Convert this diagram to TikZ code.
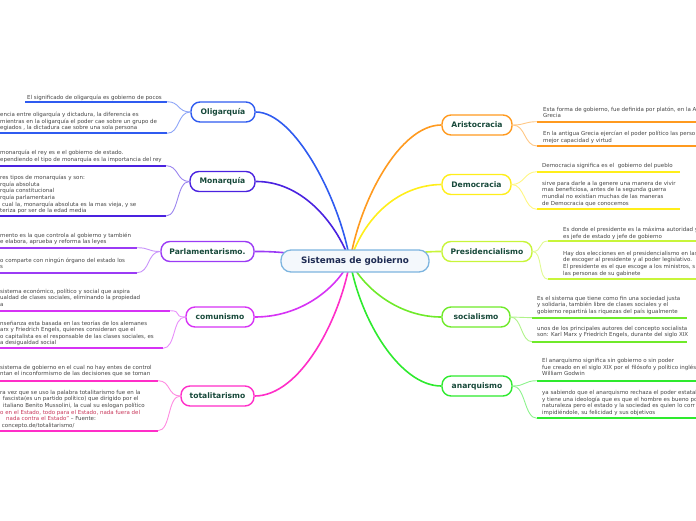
\documentclass[tikz,border=0pt]{standalone}
\usepackage{fontspec}
\setmainfont{DejaVu Sans}
\usetikzlibrary{backgrounds}
\definecolor{cOli}{HTML}{2F5BF0}
\definecolor{cMon}{HTML}{4A22E0}
\definecolor{cPar}{HTML}{9B3BF5}
\definecolor{cCom}{HTML}{D633F5}
\definecolor{cTot}{HTML}{FF2EC8}
\definecolor{cAri}{HTML}{FF9A1F}
\definecolor{cDem}{HTML}{FFEE1A}
\definecolor{cPre}{HTML}{C8F53A}
\definecolor{cSoc}{HTML}{6FEA2A}
\definecolor{cAna}{HTML}{2EEA2E}
\definecolor{txt}{HTML}{454545}
\definecolor{lbl}{HTML}{17493A}
\definecolor{rootTxt}{HTML}{1E2B52}
\definecolor{rootBd}{HTML}{7DB4DF}
\definecolor{rootFill}{HTML}{F4F8FC}
\definecolor{slogan}{HTML}{C8375A}
\tikzset{
  branch/.style={draw=#1, line width=1.4pt, fill=white, rounded corners=9pt,
    minimum height=20pt, inner xsep=4pt, font=\fontsize{7.6}{9}\bfseries, text=lbl},
  leaf/.style={font=\fontsize{5.5}{6.6}\selectfont, text=txt, align=left,
    inner sep=0pt, anchor=north west},
  uline/.style={draw=#1, line width=1.8pt},
  conn/.style={draw=#1, line width=1.6pt},
  lconn/.style={draw=#1!55, line width=0.9pt}
}
\begin{document}
\begin{tikzpicture}[x=1pt,y=-1pt]
\useasboundingbox (0,0) rectangle (696,520);
\clip (0,0) rectangle (696,520);

% root and branches
\node[draw=rootBd, fill=rootFill, line width=1.3pt, rounded corners=10pt,
  minimum width=148pt, minimum height=22pt, font=\fontsize{8.8}{10}\bfseries,
  text=rootTxt] (root) at (355,261) {Sistemas de gobierno};
\coordinate (hub) at (350,261);

\node[branch=cOli, minimum width=64pt] (olig) at (223,112) {Oligarquía};
\node[branch=cMon, minimum width=65pt] (mon) at (222.5,181.5) {Monarquía};
\node[branch=cPar, minimum width=93pt] (parl) at (207.5,251.5) {Parlamentarismo.};
\node[branch=cCom, minimum width=68pt] (com) at (220,317) {comunismo};
\node[branch=cTot, minimum width=73pt] (tot) at (217.5,396) {totalitarismo};
\node[branch=cAri, minimum width=70pt] (ari) at (477,125) {Aristocracia};
\node[branch=cDem, minimum width=69pt] (dem) at (476.5,184.5) {Democracia};
\node[branch=cPre, minimum width=90pt] (pres) at (487,251.5) {Presidencialismo};
\node[branch=cSoc, minimum width=68pt] (soc) at (476,317) {socialismo};
\node[branch=cAna, minimum width=70pt] (ana) at (477,386) {anarquismo};

\begin{scope}[on background layer]
\draw[conn=cOli] (olig.east) .. controls (295,112) and (340,200) .. (hub);
\draw[conn=cMon] (mon.east) .. controls (300,181) and (335,220) .. (hub);
\draw[conn=cPar] (parl.east) .. controls (290,251) and (320,258) .. (hub);
\draw[conn=cCom] (com.east) .. controls (300,317) and (335,290) .. (hub);
\draw[conn=cTot] (tot.east) .. controls (300,396) and (340,320) .. (hub);
\draw[conn=cAri] (ari.west) .. controls (400,125) and (360,200) .. (hub);
\draw[conn=cDem] (dem.west) .. controls (400,185) and (365,215) .. (hub);
\draw[conn=cPre] (pres.west) .. controls (420,251) and (380,258) .. (hub);
\draw[conn=cSoc] (soc.west) .. controls (400,317) and (365,290) .. (hub);
\draw[conn=cAna] (ana.west) .. controls (400,386) and (360,320) .. (hub);
\end{scope}

% ---------- left leaves ----------
% Oligarquia
\coordinate (o1a) at (25,101.7);  \coordinate (o1b) at (167,101.7);
\coordinate (o2a) at (-2,133.3);  \coordinate (o2b) at (167,133.3);
\draw[uline=cOli] (o1a) -- (o1b);
\draw[uline=cOli] (o2a) -- (o2b);
\draw[lconn=cOli] (olig.west) .. controls +(-13,0) and +(13,0) .. (o1b);
\draw[lconn=cOli] (olig.west) .. controls +(-13,0) and +(13,0) .. (o2b);
\node[leaf] (o1) at (27,94.4) {El significado de oligarquía es gobierno de pocos};
\node[leaf] (o2) at (0,112) {encia entre oligarquía y dictadura, la diferencia es\\
mientras en la oligarquía el poder cae sobre un grupo de\\
egiados , la dictadura cae sobre una sola persona};

% Monarquia
\coordinate (m1a) at (-2,165.7);  \coordinate (m1b) at (166,165.7);
\coordinate (m2a) at (-2,216);    \coordinate (m2b) at (166,216);
\draw[uline=cMon] (m1a) -- (m1b);
\draw[uline=cMon] (m2a) -- (m2b);
\draw[lconn=cMon] (mon.west) .. controls +(-13,0) and +(13,0) .. (m1b);
\draw[lconn=cMon] (mon.west) .. controls +(-13,0) and +(13,0) .. (m2b);
\node[leaf] (m1) at (0,150) {monarquía el rey es e el gobierno de estado.\\
ependiendo el tipo de monarquía es la importancia del rey};
\node[leaf] (m2) at (0,175) {res tipos de monarquías y son:\\
rquía absoluta\\
rquía constitucional\\
rquía parlamentaria\\
\hspace*{2pt}cual la, monarquía absoluta es la mas vieja, y se\\
teriza por ser de la edad media};

% Parlamentarismo
\coordinate (p1a) at (-2,247.7);  \coordinate (p1b) at (137,247.7);
\coordinate (p2a) at (-2,272.7);  \coordinate (p2b) at (137,272.7);
\draw[uline=cPar] (p1a) -- (p1b);
\draw[uline=cPar] (p2a) -- (p2b);
\draw[lconn=cPar] (parl.west) .. controls +(-13,0) and +(13,0) .. (p1b);
\draw[lconn=cPar] (parl.west) .. controls +(-13,0) and +(13,0) .. (p2b);
\node[leaf] (p1) at (0,232.7) {mento es la que controla al gobierno y también\\
e elabora, aprueba y reforma las leyes};
\node[leaf] (p2) at (0,257.7) {o comparte con ningún órgano del estado los\\
s};

% comunismo
\coordinate (c1a) at (-2,310.7);  \coordinate (c1b) at (170,310.7);
\coordinate (c2a) at (-2,348.3);  \coordinate (c2b) at (163,348.3);
\draw[uline=cCom] (c1a) -- (c1b);
\draw[uline=cCom] (c2a) -- (c2b);
\draw[lconn=cCom] (com.west) .. controls +(-13,0) and +(13,0) .. (c1b);
\draw[lconn=cCom] (com.west) .. controls +(-13,0) and +(13,0) .. (c2b);
\node[leaf] (c1) at (0,288.7) {sistema económico, político y social que aspira\\
ualdad de clases sociales, eliminando la propiedad\\
a};
\node[leaf] (c2) at (0,320.4) {nseñanza esta basada en las teorías de los alemanes\\
arx y Friedrich Engels, quienes consideran que el\\
o capitalista es el responsable de las clases sociales, es\\
a desigualdad social};

% totalitarismo
\coordinate (t1a) at (-2,380.7);  \coordinate (t1b) at (158,380.7);
\coordinate (t2a) at (-2,430.7);  \coordinate (t2b) at (158,430.7);
\draw[uline=cTot] (t1a) -- (t1b);
\draw[uline=cTot] (t2a) -- (t2b);
\draw[lconn=cTot] (tot.west) .. controls +(-13,0) and +(13,0) .. (t1b);
\draw[lconn=cTot] (tot.west) .. controls +(-13,0) and +(13,0) .. (t2b);
\node[leaf] (t1) at (0,365) {sistema de gobierno en el cual no hay entes de control\\
ntan el inconformismo de las decisiones que se toman};
\node[leaf] (t2) at (0,390) {ra vez que se uso la palabra totalitarismo fue en la\\
\hspace*{2.7pt}fascista(es un partido político) que dirigido por el\\
\hspace*{3pt}italiano Benito Mussolini, la cual su eslogan político\\
\textcolor{slogan}{o en el Estado, todo para el Estado, nada fuera del}\\
\hspace*{6pt}\textcolor{slogan}{nada contra el Estado”} – Fuente:\\
\hspace*{1.7pt}concepto.de/totalitarismo/};

% ---------- right leaves ----------
% Aristocracia
\coordinate (a1a) at (537,121.7);  \coordinate (a1b) at (698,121.7);
\coordinate (a2a) at (537,146);    \coordinate (a2b) at (698,146);
\draw[uline=cAri] (a1a) -- (a1b);
\draw[uline=cAri] (a2a) -- (a2b);
\draw[lconn=cAri] (ari.east) .. controls +(13,0) and +(-13,0) .. (a1a);
\draw[lconn=cAri] (ari.east) .. controls +(13,0) and +(-13,0) .. (a2a);
\node[leaf] (a1) at (543,106.7) {Esta forma de gobierno, fue definida por platón, en la A\\
Grecia};
\node[leaf] (a2) at (543,131) {En la antigua Grecia ejercían el poder político las perso\\
mejor capacidad y virtud};

% Democracia
\coordinate (d1a) at (537,171.7);  \coordinate (d1b) at (680,171.7);
\coordinate (d2a) at (537,209.3);  \coordinate (d2b) at (680,209.3);
\draw[uline=cDem] (d1a) -- (d1b);
\draw[uline=cDem] (d2a) -- (d2b);
\draw[lconn=cDem] (dem.east) .. controls +(13,0) and +(-13,0) .. (d1a);
\draw[lconn=cDem] (dem.east) .. controls +(13,0) and +(-13,0) .. (d2a);
\node[leaf] (d1) at (542,163.4) {Democracia significa es el \ gobierno del pueblo};
\node[leaf] (d2) at (542,181) {sirve para darle a la genere una manera de vivir\\
mas beneficiosa, antes de la segunda guerra\\
mundial no existían muchas de las maneras\\
de Democracia que conocemos};

% Presidencialismo
\coordinate (r1a) at (548,241);    \coordinate (r1b) at (698,241);
\coordinate (r2a) at (548,279.3);  \coordinate (r2b) at (698,279.3);
\draw[uline=cPre] (r1a) -- (r1b);
\draw[uline=cPre] (r2a) -- (r2b);
\draw[lconn=cPre] (pres.east) .. controls +(10,0) and +(-10,0) .. (r1a);
\draw[lconn=cPre] (pres.east) .. controls +(10,0) and +(-10,0) .. (r2a);
\node[leaf] (r1) at (563,227) {Es donde el presidente es la máxima autoridad y\\
es jefe de estado y jefe de gobierno};
\node[leaf] (r2) at (563,251) {Hay dos elecciones en el presidencialismo en las\\
de escoger al presidente y al poder legislativo.\\
El presidente es el que escoge a los ministros, s\\
las personas de su gabinete};

% socialismo
\coordinate (s1a) at (532,317.7);  \coordinate (s1b) at (687,317.7);
\coordinate (s2a) at (532,341.7);  \coordinate (s2b) at (687,341.7);
\draw[uline=cSoc] (s1a) -- (s1b);
\draw[uline=cSoc] (s2a) -- (s2b);
\draw[lconn=cSoc] (soc.east) .. controls +(11,0) and +(-11,0) .. (s1a);
\draw[lconn=cSoc] (soc.east) .. controls +(11,0) and +(-11,0) .. (s2a);
\node[leaf] (s1) at (537,296) {Es el sistema que tiene como fin una sociedad justa\\
y solidaria, también libre de clases sociales y el\\
gobierno repartirá las riquezas del país igualmente};
\node[leaf] (s2) at (537,326) {unos de los principales autores del concepto socialista\\
son: Karl Marx y Friedrich Engels, durante del siglo XIX};

% anarquismo
\coordinate (n1a) at (537,380.7);  \coordinate (n1b) at (698,380.7);
\coordinate (n2a) at (537,418.3);  \coordinate (n2b) at (698,418.3);
\draw[uline=cAna] (n1a) -- (n1b);
\draw[uline=cAna] (n2a) -- (n2b);
\draw[lconn=cAna] (ana.east) .. controls +(13,0) and +(-13,0) .. (n1a);
\draw[lconn=cAna] (ana.east) .. controls +(13,0) and +(-13,0) .. (n2a);
\node[leaf] (n1) at (542,358.4) {El anarquismo significa sin gobierno o sin poder\\
fue creado en el siglo XIX por el filósofo y político inglés\\
William Godwin};
\node[leaf] (n2) at (542,390.4) {ya sabiendo que el anarquismo rechaza el poder estatal\\
y tiene una ideología que es que el hombre es bueno po\\
naturaleza pero el estado y la sociedad es quien lo corr\\
impidiéndole, su felicidad y sus objetivos};
\end{tikzpicture}
\end{document}
